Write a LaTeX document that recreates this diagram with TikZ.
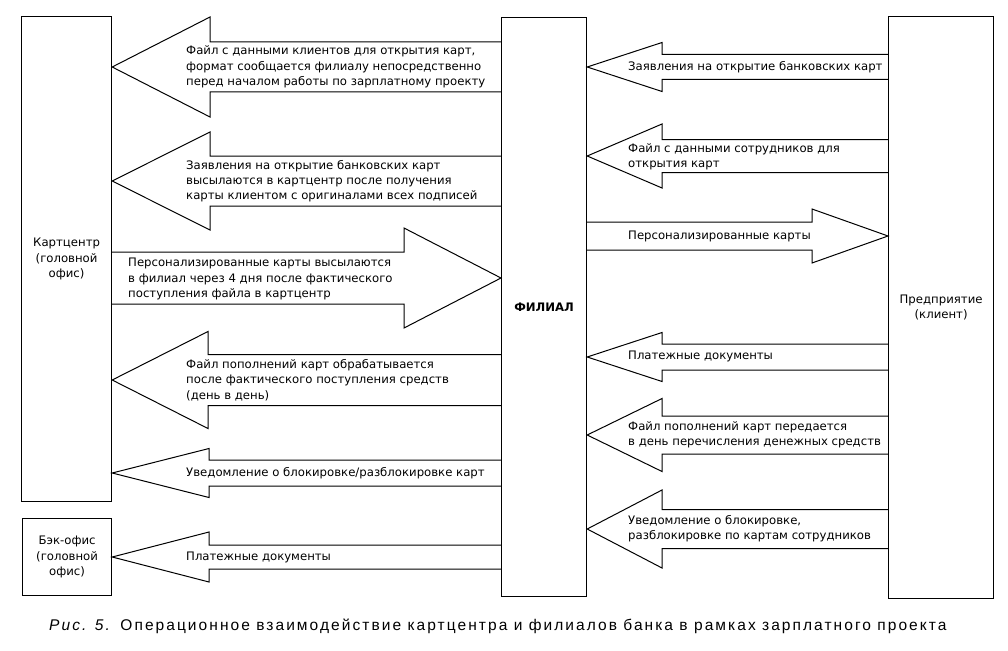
\documentclass[tikz,border=0pt]{standalone}
\usepackage{fontspec}
\setmainfont{DejaVu Sans}
\newfontfamily\capfont[LetterSpace=13.3]{Liberation Sans}
\newcommand{\lbl}{\fontsize{11.7}{15.3}\selectfont}
\tikzset{
  box/.style={draw, line width=1.2pt, anchor=north west, inner sep=0pt, align=center, font=\lbl},
  barrow/.style={draw, line width=1pt, line join=miter},
  lbl/.style={anchor=west, align=left, inner sep=0pt, font=\lbl},
}
% left-pointing block arrow: #1 shaft-side node (west side), #2 tip node (east side), #3 y, #4 head base x, #5 shaft half, #6 head half
\newcommand{\arrowL}[6]{%
  \draw[barrow] (#1.west |- 0,{#3-#5}) -- (#4,{#3-#5}) -- (#4,{#3-#6}) -- (#2.east |- 0,#3) -- (#4,{#3+#6}) -- (#4,{#3+#5}) -- (#1.west |- 0,{#3+#5});}
% right-pointing block arrow: #1 shaft-side node (east side), #2 tip node (west side)
\newcommand{\arrowR}[6]{%
  \draw[barrow] (#1.east |- 0,{#3-#5}) -- (#4,{#3-#5}) -- (#4,{#3-#6}) -- (#2.west |- 0,#3) -- (#4,{#3+#6}) -- (#4,{#3+#5}) -- (#1.east |- 0,{#3+#5});}
\begin{document}
\begin{tikzpicture}[x=1pt, y=-1pt]
\useasboundingbox (0,0) rectangle (1008,650);
% boxes
\node[box, minimum width=90pt, minimum height=485pt] (kc) at (21,16) {Картцентр\\(головной\\офис)};
\node[box, minimum width=89pt, minimum height=77pt] (bo) at (22,518) {Бэк-офис\\(головной\\офис)};
\node[box, minimum width=85pt, minimum height=579pt, font=\lbl\bfseries] (fil) at (501,17) {ФИЛИАЛ};
\node[box, minimum width=105pt, minimum height=582pt] (pr) at (888,16) {Предприятие\\(клиент)};
% left side arrows
\arrowL{fil}{kc}{67}{210}{25}{50}
\arrowL{fil}{kc}{181}{210}{25}{49}
\arrowR{kc}{fil}{278}{404}{26}{50}
\arrowL{fil}{kc}{380}{208}{25.5}{48.5}
\arrowL{fil}{kc}{473}{209}{13}{24.5}
\arrowL{fil}{bo}{557}{209}{12}{25}
% right side arrows
\arrowL{pr}{fil}{67}{662}{12.5}{24.5}
\arrowL{pr}{fil}{156}{662}{16.5}{32}
\arrowR{fil}{pr}{236}{812}{14}{27}
\arrowL{pr}{fil}{357}{662}{13}{24.5}
\arrowL{pr}{fil}{435}{662}{19}{36.5}
\arrowL{pr}{fil}{529}{662}{19.5}{39}
% labels left
\node[lbl] (t1) at (186,67) {Файл с данными клиентов для открытия карт,\\формат сообщается филиалу непосредственно\\перед началом работы по зарплатному проекту};
\node[lbl] (t2) at (186,181) {Заявления на открытие банковских карт\\высылаются в картцентр после получения\\карты клиентом с оригиналами всех подписей};
\node[lbl] (t3) at (128,279) {Персонализированные карты высылаются\\в филиал через 4 дня после фактического\\поступления файла в картцентр};
\node[lbl] (t4) at (186,380) {Файл пополнений карт обрабатывается\\после фактического поступления средств\\(день в день)};
\node[lbl] (t5) at (186,473) {Уведомление о блокировке/разблокировке карт};
\node[lbl] (t6) at (186,557) {Платежные документы};
% labels right
\node[lbl] (r1) at (628,67) {Заявления на открытие банковских карт};
\node[lbl] (r2) at (628,157) {Файл с данными сотрудников для\\открытия карт};
\node[lbl] (r3) at (628,236) {Персонализированные карты};
\node[lbl] (r4) at (628,356) {Платежные документы};
\node[lbl] (r5) at (628,435) {Файл пополнений карт передается\\в день перечисления денежных средств};
\node[lbl] (r6) at (628,529) {Уведомление о блокировке,\\разблокировке по картам сотрудников};
% caption
\node[anchor=west, inner sep=0pt, font=\capfont\fontsize{15.5}{18}\selectfont] (cap) at (49,626) {\textit{Рис. 5.} Операционное взаимодействие картцентра и филиалов банка в рамках зарплатного проекта};
\end{tikzpicture}
\end{document}
